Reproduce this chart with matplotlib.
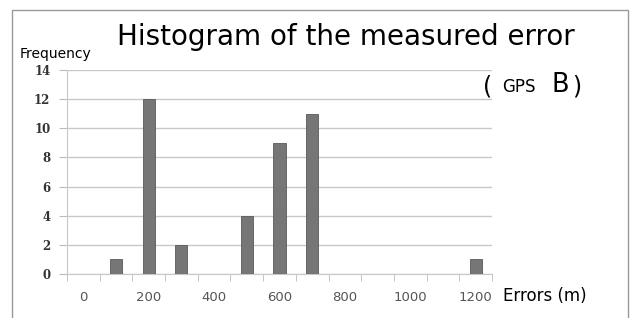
import matplotlib.pyplot as plt
import matplotlib.patches as mpatches
import numpy as np

# ---- data ----
bins = [0, 100, 200, 300, 400, 500, 600, 700, 800, 900, 1000, 1100, 1200]
freq = [0, 1, 12, 2, 0, 4, 9, 11, 0, 0, 0, 0, 1]
tick_labels = [str(b) if b % 200 == 0 else "" for b in bins]

fig = plt.figure(figsize=(6.3, 3.18), dpi=100)
ax = fig.add_axes([67 / 630, 1 - 274 / 318, 425 / 630, 204 / 318])

x = np.arange(len(bins))
ax.bar(x, freq, width=0.37, color="#767676", edgecolor="#5a5a5a", linewidth=0.6, zorder=3)

ax.set_xlim(-0.5, len(bins) - 0.5)
ax.set_ylim(0, 14)
ax.set_yticks(range(0, 15, 2))
ax.set_xticks(x)
ax.set_xticklabels(tick_labels, fontsize=9.5, color="#555555", family="DejaVu Sans")
ax.set_xticks(np.arange(-0.5, len(bins), 1), minor=True)
ax.tick_params(axis="x", which="major", length=0, pad=12)
ax.tick_params(axis="x", which="minor", length=5, color="#bbbbbb", direction="out")
ax.tick_params(axis="y", length=6, color="#bbbbbb", pad=6)
for lab in ax.get_yticklabels():
    lab.set_family("DejaVu Serif")
    lab.set_fontsize(8.5)
    lab.set_fontweight("bold")
    lab.set_color("#333333")

ax.grid(True, axis="y", color="#c8c8c8", linewidth=1, zorder=0)
for s in ["top", "right"]:
    ax.spines[s].set_visible(False)
ax.spines["left"].set_color("#c8c8c8")
ax.spines["bottom"].set_color("#c8c8c8")

fig.text(117 / 630, 1 - 45 / 318, "Histogram of the measured error", ha="left", va="baseline", fontsize=20)
fig.text(20 / 630, 1 - 58 / 318, "Frequency", ha="left", va="baseline", fontsize=10)
fig.text(483 / 630, 1 - 93 / 318, "(", ha="left", va="baseline", fontsize=17)
fig.text(502 / 630, 1 - 92 / 318, "GPS", ha="left", va="baseline", fontsize=12)
fig.text(551 / 630, 1 - 92 / 318, "B", ha="left", va="baseline", fontsize=18.5)
fig.text(572 / 630, 1 - 93 / 318, ")", ha="left", va="baseline", fontsize=17)
fig.text(503 / 630, 1 - 301 / 318, "Errors (m)", ha="left", va="baseline", fontsize=12)

# chart frame
fig.patches.append(mpatches.Rectangle((12 / 630, -0.05), 616 / 630, 1.05 - 10 / 318,
                                      transform=fig.transFigure, fill=False,
                                      edgecolor="#999999", linewidth=1))

fig.savefig("out.png", dpi=100)
